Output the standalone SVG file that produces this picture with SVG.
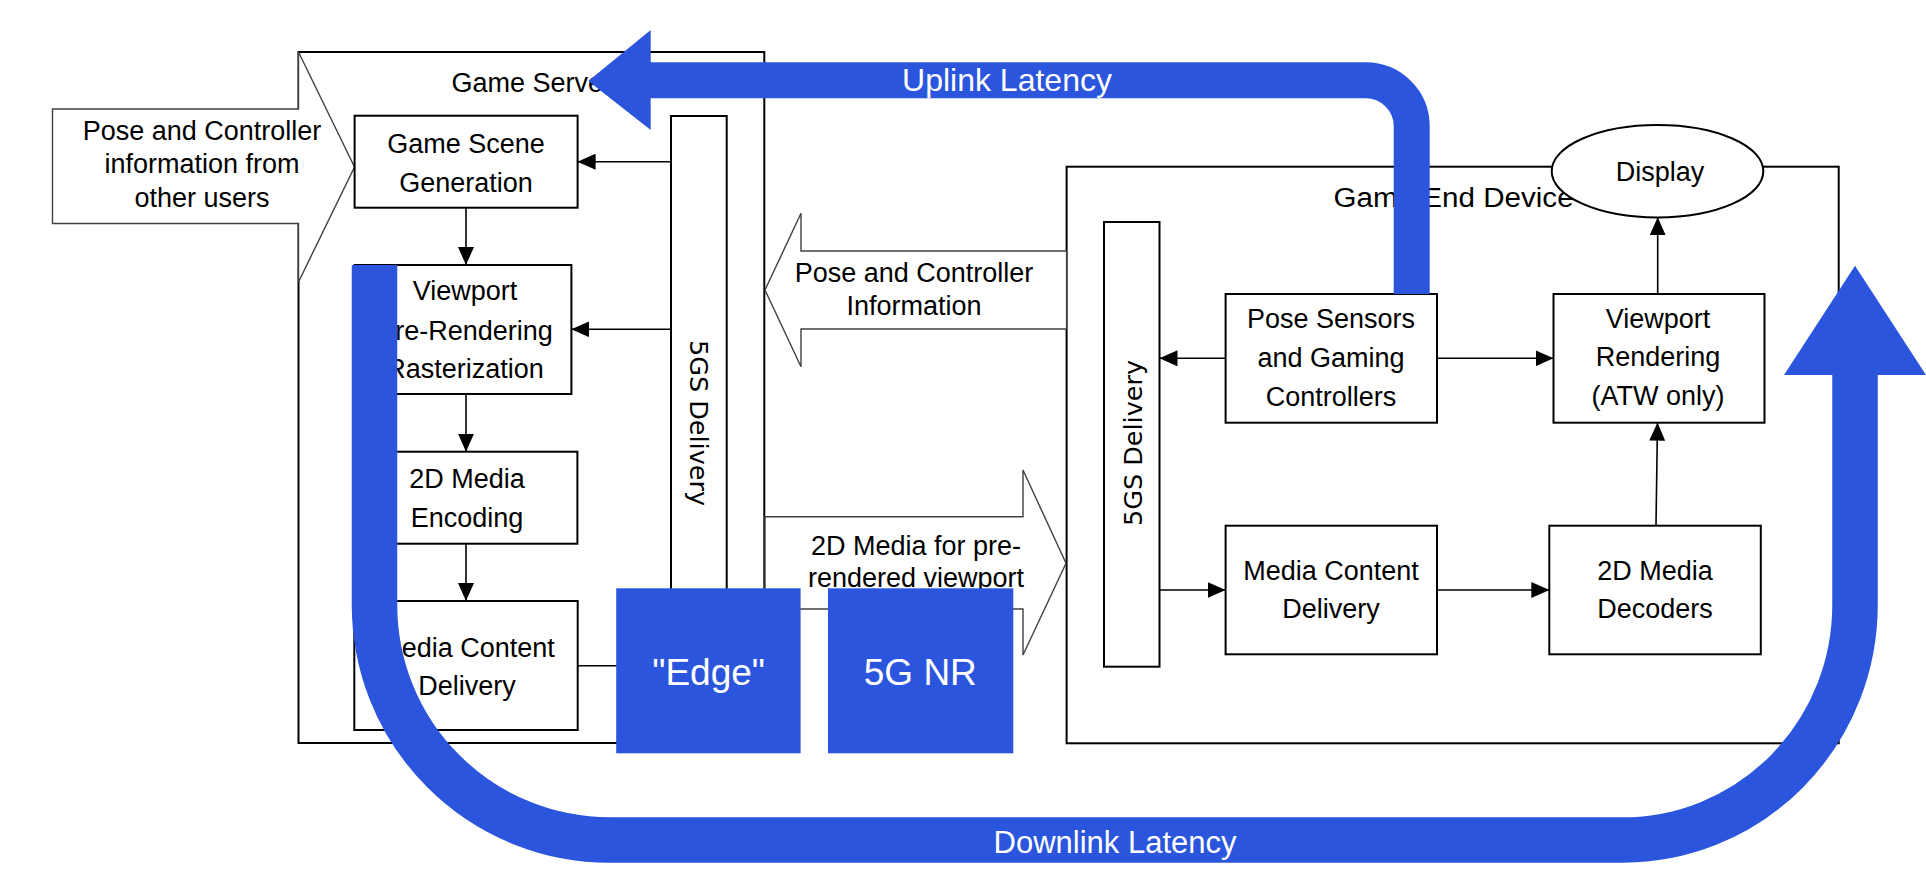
<svg xmlns="http://www.w3.org/2000/svg" width="1926" height="883" viewBox="0 0 1926 883">
<style>
.box{fill:#fff;stroke:#000;stroke-width:2}
.frame{fill:none;stroke:#000;stroke-width:2}
.hollow{fill:#fff;stroke:#404040;stroke-width:1.4}
.t{font-family:"Liberation Sans",Arial,sans-serif;font-size:27px;fill:#000;text-anchor:middle}
.ts{font-family:"Liberation Sans",Arial,sans-serif;font-size:27px;fill:#000}
.v{font-family:"DejaVu Sans",Verdana,sans-serif;font-size:25.5px;fill:#000;text-anchor:middle}
.w{font-family:"Liberation Sans",Arial,sans-serif;fill:#fff;text-anchor:middle}
.conn{stroke:#000;stroke-width:1.6;fill:none}
.blue{fill:#2A55DC}
.band{stroke:#2A55DC;fill:none;stroke-linecap:butt;stroke-linejoin:miter}
</style>
<defs>
<marker id="ah" markerUnits="userSpaceOnUse" markerWidth="18" markerHeight="16" refX="18" refY="8" orient="auto">
<path d="M0,0 L18,8 L0,16 z" fill="#000"/>
</marker>
</defs>

<g id="game-server">
<rect class="frame" x="298.5" y="52" width="465.8" height="691"/>
<text class="ts" x="451.5" y="91.7">Game Server</text>
</g>

<g id="game-end-device">
<rect class="frame" x="1066.6" y="166.7" width="772.1" height="576.6"/>
<text class="ts" x="1333.6" y="206.7" font-size="28" textLength="240" lengthAdjust="spacingAndGlyphs">Game End Device</text>
</g>

<g id="other-users-arrow">
<polygon class="hollow" points="52.5,109 298.5,109 298.5,52 354.5,167 298.5,282 298.5,223.5 52.5,223.5"/>
<text class="t" font-size="28"><tspan x="202" y="140">Pose and Controller</tspan><tspan x="202" y="173.3">information from</tspan><tspan x="202" y="206.7">other users</tspan></text>
</g>

<g id="pose-info-arrow">
<polygon class="hollow" points="1066.6,251 801,251 801,213.3 765,290 801,366.7 801,329 1066.6,329"/>
<text class="t"><tspan x="914" y="281.7">Pose and Controller</tspan><tspan x="914" y="315">Information</tspan></text>
</g>

<g id="media-arrow">
<polygon class="hollow" points="765,516.7 1023,516.7 1023,470 1066,563.3 1023,655 1023,609 765,609"/>
<text class="t"><tspan x="916" y="555">2D Media for pre-</tspan><tspan x="916" y="586.7">rendered viewport</tspan></text>
</g>

<g id="game-scene-generation">
<rect class="box" x="354.6" y="115.7" width="223" height="92"/>
<text class="t"><tspan x="466" y="153">Game Scene</tspan><tspan x="466" y="191.5">Generation</tspan></text>
</g>

<g id="viewport-pre-rendering">
<rect class="box" x="354.6" y="265" width="216.8" height="129"/>
<text class="t"><tspan x="465" y="300">Viewport</tspan><tspan x="465" y="340">Pre-Rendering</tspan><tspan x="465" y="378">Rasterization</tspan></text>
</g>

<g id="media-encoding">
<rect class="box" x="354.6" y="451.7" width="222.8" height="92"/>
<text class="t"><tspan x="467" y="488">2D Media</tspan><tspan x="467" y="527">Encoding</tspan></text>
</g>

<g id="server-media-content-delivery">
<rect class="box" x="354.3" y="601" width="223.4" height="129"/>
<text class="t"><tspan x="467" y="656.7">Media Content</tspan><tspan x="467" y="695">Delivery</tspan></text>
</g>

<g id="server-5gs-delivery">
<rect class="box" x="671" y="116" width="55.7" height="490"/>
<text class="v" transform="translate(690,423) rotate(90)">5GS Delivery</text>
</g>

<g id="device-5gs-delivery">
<rect class="box" x="1104" y="222" width="55.5" height="444.7"/>
<text class="v" transform="translate(1141.5,443) rotate(-90)">5GS Delivery</text>
</g>

<g id="pose-sensors">
<rect class="box" x="1225.6" y="294" width="211.4" height="128.7"/>
<text class="t"><tspan x="1331" y="328.3">Pose Sensors</tspan><tspan x="1331" y="366.7">and Gaming</tspan><tspan x="1331" y="406">Controllers</tspan></text>
</g>

<g id="viewport-rendering">
<rect class="box" x="1553.5" y="294" width="211" height="128.7"/>
<text class="t"><tspan x="1658" y="328">Viewport</tspan><tspan x="1658" y="366">Rendering</tspan><tspan x="1658" y="405">(ATW only)</tspan></text>
</g>

<g id="device-media-content-delivery">
<rect class="box" x="1225.6" y="525.7" width="211.4" height="128.6"/>
<text class="t"><tspan x="1331" y="580">Media Content</tspan><tspan x="1331" y="618.3">Delivery</tspan></text>
</g>

<g id="media-decoders">
<rect class="box" x="1549.3" y="525.7" width="211.5" height="128.6"/>
<text class="t"><tspan x="1655" y="580">2D Media</tspan><tspan x="1655" y="618.3">Decoders</tspan></text>
</g>

<g id="connectors">
<line class="conn" x1="671" y1="161.7" x2="577.6" y2="161.7" marker-end="url(#ah)"/>
<line class="conn" x1="671" y1="329.3" x2="571.4" y2="329.3" marker-end="url(#ah)"/>
<line class="conn" x1="466" y1="207.7" x2="466" y2="265" marker-end="url(#ah)"/>
<line class="conn" x1="466" y1="394" x2="466" y2="451.7" marker-end="url(#ah)"/>
<line class="conn" x1="466" y1="543.7" x2="466" y2="601" marker-end="url(#ah)"/>
<line class="conn" x1="577.7" y1="665.7" x2="620" y2="665.7"/>
<line class="conn" x1="1225.6" y1="358.3" x2="1159.5" y2="358.3" marker-end="url(#ah)"/>
<line class="conn" x1="1437" y1="358.3" x2="1553.5" y2="358.3" marker-end="url(#ah)"/>
<line class="conn" x1="1159.5" y1="590" x2="1225.6" y2="590" marker-end="url(#ah)"/>
<line class="conn" x1="1437" y1="590" x2="1549.3" y2="590" marker-end="url(#ah)"/>
<line class="conn" x1="1656" y1="525.7" x2="1657.5" y2="422.7" marker-end="url(#ah)"/>
<line class="conn" x1="1657.7" y1="294" x2="1657.7" y2="217.3" marker-end="url(#ah)"/>
</g>

<g id="display">
<ellipse class="box" cx="1657.5" cy="171.2" rx="105.8" ry="46.2"/>
<text class="t" x="1660" y="180.7">Display</text>
</g>

<g id="edge">
<rect class="blue" x="616.2" y="588.3" width="184.4" height="165"/>
<text class="w" x="708.6" y="685" font-size="37">"Edge"</text>
</g>

<g id="nr">
<rect class="blue" x="828" y="588.3" width="185.3" height="165"/>
<text class="w" x="920.3" y="685" font-size="37">5G NR</text>
</g>

<g id="uplink-latency">
<path class="band" stroke-width="36" d="M650,80.3 H1365.7 A46,46 0 0 1 1411.7,126.3 V294"/>
<polygon class="blue" points="650.7,30 650.7,130 588.3,81"/>
<text class="w" x="1007" y="91" font-size="32">Uplink Latency</text>
</g>

<g id="downlink-latency">
<path class="band" stroke-width="45.5" d="M374.5,265 V605 A235,235 0 0 0 609.5,840 H1623 A232,235 0 0 0 1855,605 V374"/>
<polygon class="blue" points="1784,375 1926,375 1855,265.7"/>
<text class="w" x="1115" y="853" font-size="31">Downlink Latency</text>
</g>
</svg>
